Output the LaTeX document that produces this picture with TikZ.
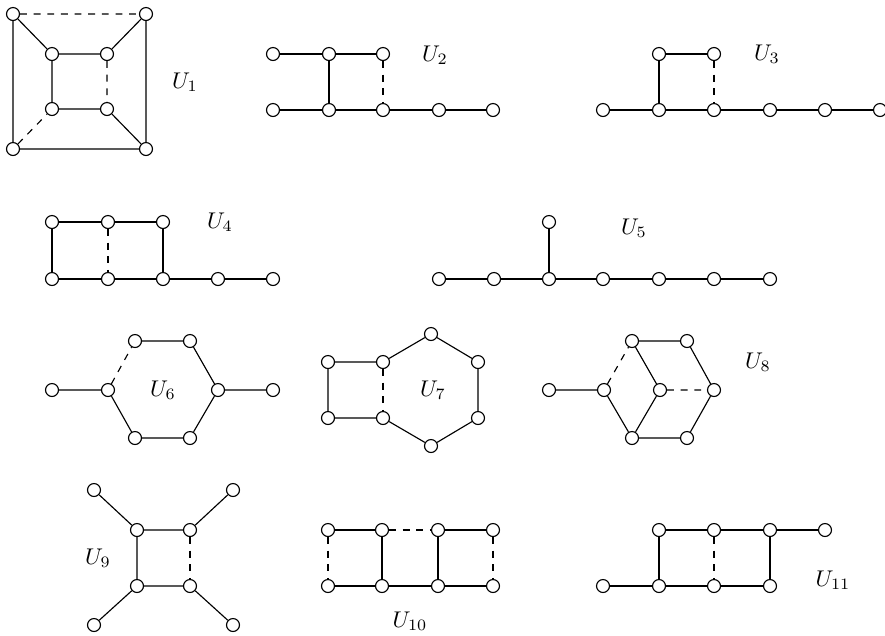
\documentclass[tikz,border=0pt]{standalone}
\usepackage{amsmath}
\usepackage{tikz}
\usetikzlibrary{positioning}

\begin{document}
\begin{tikzpicture}[x=0.44pt,y=-0.44pt,line width=0.5pt,
  vtx/.style={circle,draw,fill=white,inner sep=0pt,minimum size=5.7pt}]
  \useasboundingbox (0,0) rectangle (885,635);
  % U_1
  \node[vtx] (a1) at (13,14) {};
  \node[vtx] (a2) at (146,14) {};
  \node[vtx] (a3) at (13,149) {};
  \node[vtx] (a4) at (146,149) {};
  \node[vtx] (a5) at (52,54) {};
  \node[vtx] (a6) at (107,54) {};
  \node[vtx] (a7) at (52,109) {};
  \node[vtx] (a8) at (107,109) {};
  \draw (a2)--(a4)--(a3)--(a1)--(a5)--(a6)--(a2);
  \draw (a5)--(a7)--(a8)--(a4);
  \draw[dashed] (a1)--(a2) (a3)--(a7) (a6)--(a8);
  \node (u1) at (185,82) {$U_1$};
  % U_2
  \foreach \x [count=\i] in {273,329,383,439,493} \node[vtx] (b\i) at (\x,110) {};
  \node[vtx] (b6) at (273,54) {};
  \node[vtx] (b7) at (329,54) {};
  \node[vtx] (b8) at (383,54) {};
  \draw (b1)--(b2)--(b3)--(b4)--(b5);
  \draw (b6)--(b7)--(b8) (b7)--(b2);
  \draw[dashed] (b8)--(b3);
  \node (u2) at (435,55) {$U_2$};
  % U_3
  \foreach \x [count=\i] in {603,659,714,770,825,880} \node[vtx] (c\i) at (\x,110) {};
  \node[vtx] (c7) at (659,54) {};
  \node[vtx] (c8) at (714,54) {};
  \draw (c1)--(c2)--(c3)--(c4)--(c5)--(c6);
  \draw (c2)--(c7)--(c8);
  \draw[dashed] (c8)--(c3);
  \node (u3) at (767,54) {$U_3$};
  % U_4
  \foreach \x [count=\i] in {52,108,163,218,273} \node[vtx] (d\i) at (\x,279) {};
  \foreach \x [count=\i from 6] in {52,108,163} \node[vtx] (d\i) at (\x,222) {};
  \draw (d1)--(d2)--(d3)--(d4)--(d5);
  \draw (d1)--(d6)--(d7)--(d8)--(d3);
  \draw[dashed] (d7)--(d2);
  \node (u4) at (220,222) {$U_4$};
  % U_5
  \foreach \x [count=\i] in {439,494,549,603,659,714,770} \node[vtx] (e\i) at (\x,279) {};
  \node[vtx] (e8) at (549,222) {};
  \draw (e1)--(e2)--(e3)--(e4)--(e5)--(e6)--(e7) (e3)--(e8);
  \node (u5) at (634,228) {$U_5$};
  % U_6
  \node[vtx] (f1) at (52,390) {};
  \node[vtx] (f2) at (108,390) {};
  \node[vtx] (f3) at (135,341) {};
  \node[vtx] (f4) at (190,341) {};
  \node[vtx] (f5) at (218,390) {};
  \node[vtx] (f6) at (273,390) {};
  \node[vtx] (f7) at (135,438) {};
  \node[vtx] (f8) at (190,438) {};
  \draw (f1)--(f2)--(f7)--(f8)--(f5)--(f6) (f3)--(f4)--(f5);
  \draw[dashed] (f2)--(f3);
  \node (u6) at (163,390) {$U_6$};
  % U_7
  \node[vtx] (g1) at (328,362) {};
  \node[vtx] (g2) at (383,362) {};
  \node[vtx] (g3) at (328,418) {};
  \node[vtx] (g4) at (383,418) {};
  \node[vtx] (g5) at (431,334) {};
  \node[vtx] (g6) at (478,362) {};
  \node[vtx] (g7) at (478,418) {};
  \node[vtx] (g8) at (431,446) {};
  \draw (g2)--(g1)--(g3)--(g4)--(g8)--(g7)--(g6)--(g5)--(g2);
  \draw[dashed] (g2)--(g4);
  \node (u7) at (433,390) {$U_7$};
  % U_8
  \node[vtx] (h1) at (549,390) {};
  \node[vtx] (h2) at (604,390) {};
  \node[vtx] (h3) at (632,341) {};
  \node[vtx] (h4) at (687,341) {};
  \node[vtx] (h5) at (714,390) {};
  \node[vtx] (h6) at (660,390) {};
  \node[vtx] (h7) at (632,438) {};
  \node[vtx] (h8) at (687,438) {};
  \draw (h1)--(h2)--(h7)--(h8)--(h5)--(h4)--(h3)--(h6)--(h7);
  \draw[dashed] (h2)--(h3) (h6)--(h5);
  \node (u8) at (758,362) {$U_8$};
  % U_9
  \node[vtx] (i1) at (137,530) {};
  \node[vtx] (i2) at (190,530) {};
  \node[vtx] (i3) at (137,586) {};
  \node[vtx] (i4) at (190,586) {};
  \node[vtx] (i5) at (94,490) {};
  \node[vtx] (i6) at (233,490) {};
  \node[vtx] (i7) at (94,625) {};
  \node[vtx] (i8) at (233,625) {};
  \draw (i2)--(i1)--(i3)--(i4) (i1)--(i5) (i2)--(i6) (i3)--(i7) (i4)--(i8);
  \draw[dashed] (i2)--(i4);
  \node (u9) at (98,558) {$U_9$};
  % U_10
  \foreach \x [count=\i] in {328,382,438,493} {
    \node[vtx] (j\i) at (\x,530) {};
    \node[vtx] (k\i) at (\x,586) {};
  }
  \draw (j1)--(j2)--(k2) (j3)--(j4) (j3)--(k3) (k1)--(k2)--(k3)--(k4);
  \draw[dashed] (j1)--(k1) (j2)--(j3) (j4)--(k4);
  \node (u10) at (410,621) {$U_{10}$};
  % U_11
  \foreach \x [count=\i] in {659,714,770,825} \node[vtx] (m\i) at (\x,530) {};
  \foreach \x [count=\i] in {603,659,714,770} \node[vtx] (n\i) at (\x,586) {};
  \draw (m1)--(m2)--(m3)--(m4) (n1)--(n2)--(n3)--(n4) (m1)--(n2) (m3)--(n4);
  \draw[dashed] (m2)--(n3);
  \node (u11) at (833,580) {$U_{11}$};
\end{tikzpicture}
\end{document}
